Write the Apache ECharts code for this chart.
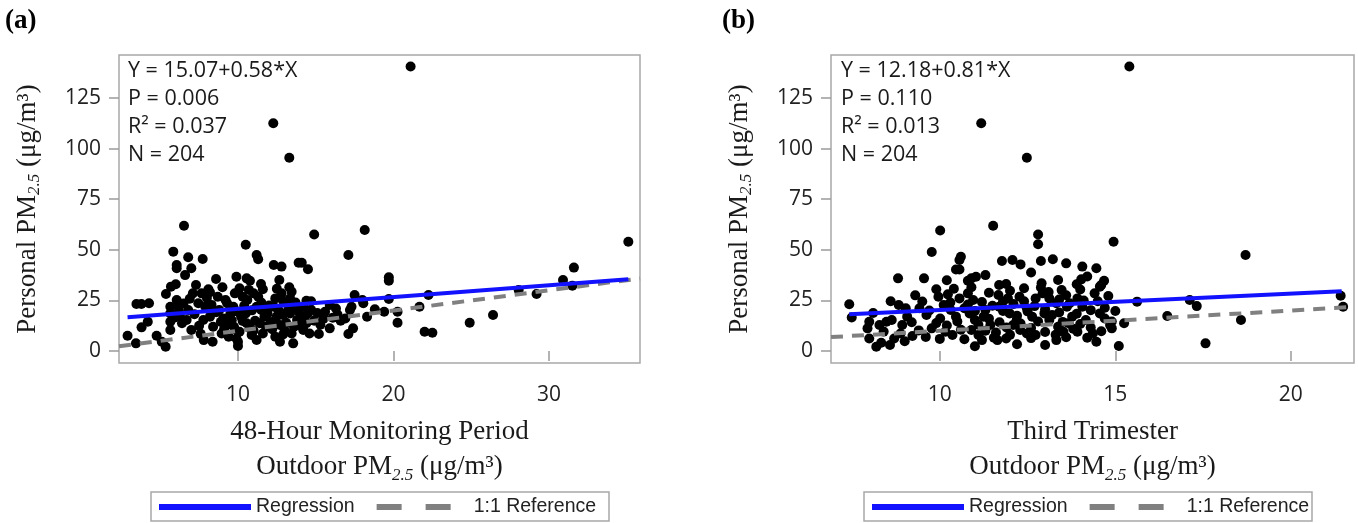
<!DOCTYPE html>
<html>
<head>
<meta charset="utf-8">
<script src="https://cdn.jsdelivr.net/npm/echarts@6/dist/echarts.min.js"></script>
<style>
html,body{margin:0;padding:0;background:#fff;}
#chart{width:1358px;height:523px;}
</style>
</head>
<body>
<div id="chart"></div>
<script>
// ---------- DATA ----------
// Panel (a): 48-hour monitoring outdoor PM2.5 (x) vs personal PM2.5 (y)
const pointsA = [
[21.1,140.5],[12.27,112.5],[13.3,95.5],[6.53,61.9],[14.9,57.6],[18.15,59.8],[10.5,52.5],[5.84,49.1],[17.1,47.4],[6.8,46.3],
[7.73,45.5],[6.06,42.5],[6.06,40.9],[7.0,40.9],[11.2,47.4],[11.3,45.3],[12.3,42.5],[12.8,41.7],[13.9,43.6],[14.1,43.6],
[14.5,40.4],[19.7,36.4],[19.7,34.7],[9.9,36.7],[10.56,35.9],[10.77,34.7],[8.59,35.6],[11.48,33.1],[12.66,35.1],[5.69,31.8],
[5.37,28.2],[3.47,23.2],[3.79,23.2],[4.28,23.6],[7.3,32.6],
[35.1,54.0],[31.6,41.2],[30.9,35.1],[31.5,32.3],[28.05,30.1],[29.2,28.2],[26.4,17.8],[24.9,14.0],[22.0,9.5],[22.5,9.0],
[22.25,27.7],[21.67,21.9],[20.26,19.4],[20.26,14.0],[19.7,25.7],[18.8,20.6],[19.4,19.4],[18.3,16.9],[18.0,25.2],[17.5,27.7],
[17.4,11.2],[17.1,8.4],[17.3,21.9],[17.2,20.3],[16.4,18],[16.6,15],[15.9,22.7],[15.9,11.2],[15.2,8.4],[15.5,16],[14.7,24.6],
[2.9,7.6],[3.44,3.8],[3.8,11.7],[4.2,14.5],[4.77,7.6],[5.1,4.6],[5.35,2.1],[5.65,21.9],[5.65,18.6],[5.65,14.5],
[5.65,10.4],[6.06,25.2],[6.17,21.9],[6.27,17],[6.4,13.7],[6.8,20.3],[6.7,15.3],[7.0,10.4],[7.1,28.5],[7.66,28.5],
[8.1,30.5],[8.2,29],[7.45,23.6],[7.9,21.9],[7.77,15.3],[8.2,17],[8.4,12],[7.8,5.4],[8.37,4.6],[8.7,26.8],
[9.2,25.2],[8.8,20.3],[9.05,16.1],[9.27,12.9],[8.95,8.7],[9.4,7.1],[9.8,28.5],[10.1,31],[10.3,26.8],[10.6,25.2],
[9.7,21.9],[10.0,19.4],[10.2,16.9],[9.74,12],[10.1,9.5],[9.9,6.2],[10.0,4.6],[10.0,2.5],[10.56,13.7],[10.77,11.2],
[10.88,7.9],[11,28.5],[11.3,26.8],[11.2,21.9],[11.5,20.3],[11.7,16.9],[11.4,13.7],[11.8,12],[11.6,8.7],[12.4,26],
[12.8,28.5],[12.3,21.9],[12.6,20.3],[12.9,17.8],[12.4,15.3],[12.7,12.9],[13.0,10.4],[12.4,7.1],[12.7,4.6],[13.45,29.3],
[13.35,26],[13.1,23.6],[13.65,21.9],[13.35,18.6],[13.8,15.3],[13.6,12],[13.45,8.7],[13.55,3.8],[14.2,21.9],[14.5,18.6],
[14.4,13.7],[14.2,10.4],[14.6,8.7],[16.9,16.1],[18.06,23.6],
[5.9,16.5],[6.2,19.5],[6.5,23.5],[6.9,25.8],[7.2,18.2],[7.5,12.5],[7.6,8.5],[8.0,26.2],[8.3,22.8],[8.6,19.2],
[8.9,14.4],[9.1,10.6],[9.3,23.6],[9.5,18.0],[9.6,15.2],[9.8,10.8],[10.3,14.8],[10.4,22.4],[10.5,18.6],[10.7,30.2],
[10.9,20.1],[11.1,15.0],[11.0,10.1],[11.2,5.5],[11.5,24.0],[11.6,30.5],[11.9,18.5],[12.0,22.5],[12.1,14.2],[12.2,10.8],
[12.5,30.8],[12.5,17.2],[12.9,24.8],[12.9,8.2],[13.1,14.0],[13.2,19.8],[13.3,31.5],[13.7,24.0],[13.9,19.5],[14.0,12.5],
[14.3,16.8],[14.4,24.8],[14.7,20.4],[14.9,15.0],[15.1,18.8],[15.3,13.0],[15.6,19.4],[16.1,16.5],[16.3,21.0],[9.0,31.5],
[6.0,33.0],[6.6,37.5]
];
// Panel (b): third trimester outdoor PM2.5 (x) vs personal PM2.5 (y)
const pointsB = [
[15.4,140.5],[11.18,112.5],[12.48,95.5],[11.52,61.9],[10.01,59.5],[12.8,57.6],[12.8,52.7],[14.95,54],[9.77,48.9],[18.71,47.4],
[10.6,46.6],[10.56,45],[10.46,40.3],[10.56,40.3],[11.77,44.5],[12.07,45],[12.3,42.8],[12.88,44.5],[13.22,45.3],[13.6,43.3],
[14.06,41.7],[14.46,40.9],[8.81,35.9],[9.55,35.9],[10.9,35.9],[11.03,36.7],[10.8,34.7],[11.69,32.6],[11.89,33.1],[12.88,31.4],
[13.37,35.1],[13.47,30.1],[14.03,35.4],[14.68,34.7],[14.6,32.6],[7.42,23.1],[7.49,16.6],[7.99,14.5],[7.94,11.2],[7.99,6.2],
[8.19,2.1],[8.33,4.1],[8.58,3.0],[8.28,12.9],[8.48,14.5],[8.63,15.3],[8.83,22.7],[9.03,21.1],[8.93,12.9],[9.07,17],
[8.88,8.7],[9.22,7.4],[9.42,21.1],[9.62,17.8],[9.77,11.2],[9.96,26.8],[10.23,28],[10.11,22.7],[10.31,20.3],[10.46,17],
[10.01,16.1],[10.16,9.5],[10.36,7.9],[10.56,26],[10.8,28.5],[10.95,25.2],[10.7,21.1],[10.85,18.6],[11.0,15.3],[10.9,10.4],
[11.1,7.9],[11.2,5.4],[11.3,20.3],[11.25,17],[11.44,12.9],[11.54,6.6],[11.64,5.4],[11.67,27.7],[11.94,26],[12.27,26.8],
[11.69,21.9],[11.99,18.6],[12.19,15.3],[11.89,6.2],[12.09,12.9],[12.29,10.4],[12.48,21.1],[12.63,17],[12.73,26],[12.48,8.7],
[12.73,7.9],[12.93,28.5],[13.12,26],[13.32,23.6],[12.98,18.6],[13.12,15.3],[13.37,12],[13.32,5.4],[13.52,9.5],[13.62,21.9],
[13.77,17],[13.67,13.7],[13.92,26],[14.06,21.9],[14.16,15.3],[13.92,9.5],[14.36,8.7],[14.46,4.6],[14.41,28.5],[14.56,31.8],
[14.56,18.6],[14.7,16.1],[14.85,12.9],[14.9,11.2],[15.1,2.5],[15.25,13.7],[15.62,24.4],[16.48,17.3],[17.12,25.2],[17.32,22.2],
[17.57,3.8],[18.58,15.3],[21.42,27.3],[21.49,21.9],
[8.1,18.8],[8.4,9.6],[8.7,6.2],[9.2,14.2],[9.4,10.2],[9.5,24.5],[9.7,20.0],[9.9,13.8],[9.9,30.5],[10.0,6.0],
[10.2,12.6],[10.3,24.0],[10.4,30.8],[10.5,14.6],[10.6,10.5],[10.7,5.8],[10.8,23.0],[10.9,31.5],[11.0,19.8],[11.1,13.0],
[11.2,24.2],[11.3,10.0],[11.4,28.8],[11.4,16.0],[11.5,22.4],[11.6,9.2],[11.7,14.2],[11.8,24.5],[11.8,19.8],[11.9,11.6],
[12.0,29.8],[12.0,8.0],[12.1,23.2],[12.2,17.4],[12.3,13.6],[12.4,31.0],[12.4,24.6],[12.5,19.6],[12.6,11.4],[12.6,6.4],
[12.7,22.2],[12.8,14.6],[12.9,33.5],[13.0,20.6],[13.0,9.4],[13.1,29.2],[13.2,17.8],[13.3,8.0],[13.4,25.4],[13.4,19.0],
[13.5,14.4],[13.6,27.6],[13.6,6.8],[13.7,23.6],[13.8,11.0],[13.9,18.4],[14.0,30.4],[14.0,13.4],[14.1,25.0],[14.2,6.6],
[14.3,20.2],[14.3,11.6],[14.5,24.6],[14.6,9.8],[14.7,21.4],[14.8,27.2],[14.9,14.6],[15.0,19.8],[14.2,36.8],[13.9,33.0],
[10.2,35.0],[11.3,37.5],[12.6,38.8],[9.3,27.5],[8.6,24.6],[9.0,4.8],[9.6,7.0],[11.0,2.4],[12.2,3.4],[13.0,3.0]
];
// Regression line end points (Y = a + b*X) and 1:1 reference end points
const regressionA = [[2.9,16.75],[35.1,35.43]];
const referenceA  = [[2.35,2.35],[35.85,35.85]];
const regressionB = [[7.42,18.19],[21.45,29.55]];
const referenceB  = [[6.9,6.9],[21.8,21.8]];
// Axis ticks
const xTicksA = [10,20,30];
const xTicksB = [10,15,20];
const yTicks  = [0,25,50,75,100,125];
// Stats text
const statsA = ['Y = 15.07+0.58*X','P = 0.006','R² = 0.037','N = 204'];
const statsB = ['Y = 12.18+0.81*X','P = 0.110','R² = 0.013','N = 204'];
const panelLabels = ['(a)','(b)'];
const xTitlesTop = ['48-Hour Monitoring Period','Third Trimester'];

// ---------- STYLE ----------
const SERIF = '"Liberation Serif","DejaVu Serif",serif';
const SANS = '"Open Sans","Noto Sans",sans-serif';
const ARIAL = '"Liberation Sans",Arial,sans-serif';
const BLUE = '#1212ff';
const GRAY = '#808080';

const chart = echarts.init(document.getElementById('chart'), null, {renderer:'canvas'});

const grids = [
  {left:119, top:55, width:521, height:308},
  {left:831, top:55, width:523, height:308}
];

function xAxisCfg(i, min, max, ticks, title){
  return {
    type:'value', gridIndex:i, min:min, max:max,
    axisLine:{show:false},
    splitLine:{show:false},
    axisTick:{show:true, length:10, customValues:ticks, lineStyle:{color:'#9a9a9a', width:1.5}},
    axisLabel:{customValues:ticks, fontFamily:SANS, fontSize:21, color:'#222', margin:22},
    name: title + '\nOutdoor PM{s|2.5} (μg/m³)',
    nameLocation:'middle', nameGap:51,
    nameTextStyle:{fontFamily:SERIF, fontSize:27, color:'#1a1a1a', lineHeight:35,
      rich:{s:{fontFamily:SERIF, fontSize:17, fontStyle:'italic', color:'#1a1a1a', verticalAlign:'bottom', lineHeight:35}}}
  };
}
function yAxisCfg(i){
  return {
    type:'value', gridIndex:i, min:-5.9, max:146.2,
    axisLine:{show:false},
    splitLine:{show:false},
    axisTick:{show:true, length:10, customValues:yTicks, lineStyle:{color:'#9a9a9a', width:1.5}},
    axisLabel:{customValues:yTicks, fontFamily:SANS, fontSize:21, color:'#222', margin:18},
    name:'Personal PM{s|2.5} (μg/m³)',
    nameLocation:'middle', nameRotate:90, nameGap:76,
    nameTextStyle:{fontFamily:SERIF, fontSize:27, color:'#1a1a1a', lineHeight:30,
      rich:{s:{fontFamily:SERIF, fontSize:17, fontStyle:'italic', color:'#1a1a1a', verticalAlign:'bottom', lineHeight:30}}}
  };
}

const HIDDEN = {color:'rgba(0,0,0,0)', borderColor:'rgba(0,0,0,0)', borderWidth:0, opacity:0};
function legendCfg(left){
  return {
    left:left, top:497, padding:0, itemWidth:92, itemHeight:14, itemGap:19,
    selectedMode:false,
    textStyle:{fontFamily:ARIAL, fontSize:19.5, color:'#222'},
    data:[
      {name:'Regression', itemStyle:HIDDEN, lineStyle:{color:BLUE, width:6, type:'solid'}},
      {name:'1:1 Reference', itemStyle:HIDDEN, lineStyle:{color:GRAY, width:6, type:[25,24]}}
    ]
  };
}

function statsGraphic(left, lines){
  return lines.map((t, k) => ({
    type:'text', left:left, top:60 + k*27.8, z:10,
    style:{text:t, font:'21.5px ' + SANS, fill:'#1a1a1a'}
  }));
}

const option = {
  animation:false,
  backgroundColor:'#ffffff',
  grid: grids.map(g => Object.assign({show:true, borderColor:'#a8a8a8', borderWidth:1.5, backgroundColor:'transparent'}, g)),
  xAxis:[xAxisCfg(0, 2.35, 35.85, xTicksA, xTitlesTop[0]), xAxisCfg(1, 6.9, 21.8, xTicksB, xTitlesTop[1])],
  yAxis:[yAxisCfg(0), yAxisCfg(1)],
  legend:[legendCfg(156), legendCfg(869)],
  series:[
    {type:'scatter', xAxisIndex:0, yAxisIndex:0, data:pointsA, symbolSize:10, itemStyle:{color:'#000', opacity:1}, z:2, silent:true},
    {type:'line', name:'Regression', xAxisIndex:0, yAxisIndex:0, data:regressionA, symbol:'none', lineStyle:{color:BLUE, width:4}, itemStyle:{color:BLUE}, z:4},
    {type:'line', name:'1:1 Reference', xAxisIndex:0, yAxisIndex:0, data:referenceA, symbol:'none', lineStyle:{color:GRAY, width:4, type:[12,9]}, itemStyle:{color:GRAY}, z:3},
    {type:'scatter', xAxisIndex:1, yAxisIndex:1, data:pointsB, symbolSize:10, itemStyle:{color:'#000', opacity:1}, z:2, silent:true},
    {type:'line', name:'Regression', xAxisIndex:1, yAxisIndex:1, data:regressionB, symbol:'none', lineStyle:{color:BLUE, width:4}, itemStyle:{color:BLUE}, z:4},
    {type:'line', name:'1:1 Reference', xAxisIndex:1, yAxisIndex:1, data:referenceB, symbol:'none', lineStyle:{color:GRAY, width:4, type:[12,9]}, itemStyle:{color:GRAY}, z:3}
  ],
  graphic:[
    {type:'text', left:5, top:8, style:{text:panelLabels[0], font:'bold 27px ' + SERIF, fill:'#000'}},
    {type:'text', left:722, top:8, style:{text:panelLabels[1], font:'bold 27px ' + SERIF, fill:'#000'}},
    {type:'rect', shape:{x:151, y:492, width:458, height:29}, style:{fill:'none', stroke:'#a8a8a8', lineWidth:1.5}},
    {type:'rect', shape:{x:864, y:492, width:448, height:29}, style:{fill:'none', stroke:'#a8a8a8', lineWidth:1.5}}
  ].concat(statsGraphic(128, statsA), statsGraphic(841, statsB))
};
chart.setOption(option);
</script>
</body>
</html>
